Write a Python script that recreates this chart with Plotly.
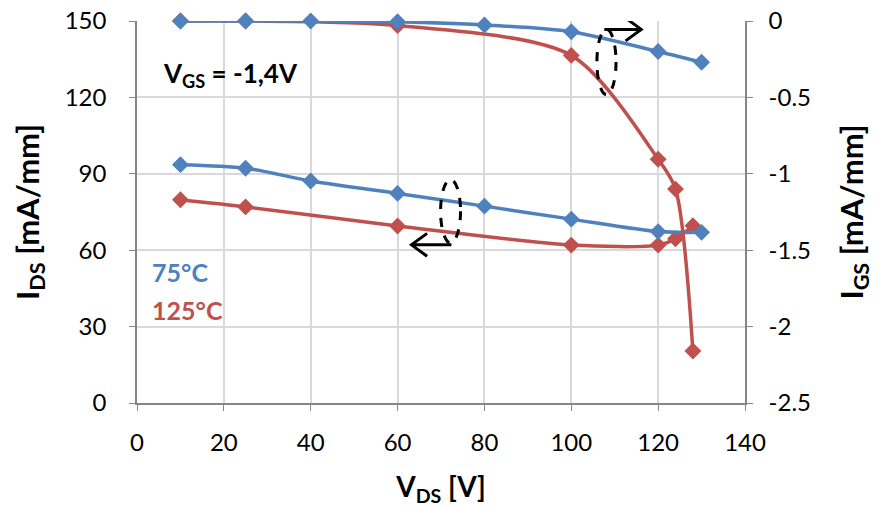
import plotly.graph_objects as go

# ---- data ----
vds_75 = [10, 25, 40, 60, 80, 100, 120, 130]
ids_75 = [93.6, 92.2, 87.2, 82.3, 77.3, 72.2, 67.3, 67.0]
igs_75 = [0.0, 0.0, 0.0, -0.005, -0.026, -0.07, -0.2, -0.27]

vds_125 = [10, 25, 60, 100, 120, 124, 128]
ids_125 = [79.8, 77.0, 69.5, 62.0, 62.0, 64.5, 69.6]
igs_125 = [0.0, 0.0, -0.03, -0.225, -0.905, -1.10, -2.16]

x_ticks = [0, 20, 40, 60, 80, 100, 120, 140]
left_ticks = [0, 30, 60, 90, 120, 150]
right_ticks = [-2.5, -2, -1.5, -1, -0.5, 0]
right_ticktext = ["-2.5", "-2", "-1.5", "-1", "-0.5", "0"]

BLUE = "#4F81BD"
RED = "#C0504D"
FONT = "Lato"

fig = go.Figure()

def add(x, y, color, axis):
    fig.add_trace(go.Scatter(
        x=x, y=y, mode="lines+markers", yaxis=axis,
        line=dict(color=color, width=3.5, shape="spline", smoothing=0.8),
        marker=dict(symbol="diamond", size=13, color=color),
        showlegend=False, cliponaxis=False))

add(vds_125, ids_125, RED, "y")
add(vds_75, ids_75, BLUE, "y")
add(vds_125, igs_125, RED, "y2")
add(vds_75, igs_75, BLUE, "y2")

axis_common = dict(showline=True, linecolor="#868686", linewidth=1.5,
                   ticks="outside", ticklen=6, tickcolor="#868686",
                   tickfont=dict(family=FONT, size=24, color="black"),
                   zeroline=False, automargin=False, ticklabeloverflow="allow")

# page body adds an 8px offset; figure sized so plot area lands where the reference has it
fig.update_layout(
    width=872, height=499,
    margin=dict(l=129, r=135, t=13, b=104),
    plot_bgcolor="white", paper_bgcolor="white",
    font=dict(family=FONT, color="black"),
    xaxis=dict(range=[0, 140], tickvals=x_ticks, showgrid=True,
               gridcolor="#D9D9D9", gridwidth=1.5, ticklabelstandoff=11,
               title=dict(text="<b>V<sub>DS</sub> [V]</b>", font=dict(size=28), standoff=27),
               **axis_common),
    yaxis=dict(range=[0, 150], tickvals=left_ticks, showgrid=True,
               gridcolor="#D9D9D9", gridwidth=1.5, ticklabelstandoff=18,
               title=dict(text="<b>I<sub>DS</sub> [mA/mm]</b>", font=dict(size=31), standoff=16),
               **axis_common),
    yaxis2=dict(range=[-2.5, 0], tickvals=right_ticks, ticktext=right_ticktext,
                overlaying="y", side="right", showgrid=False, ticklabelstandoff=11,
                title=dict(text="<b>I<sub>GS</sub> [mA/mm]</b>", font=dict(size=31), standoff=31),
                **axis_common),
)

fig.add_annotation(x=21.6, y=129, xref="x", yref="y", showarrow=False,
                   text="<b>V<sub>GS</sub> = -1,4V</b>", font=dict(size=26, color="black"))
fig.add_annotation(x=3.0, y=51.5, xref="x", yref="y", showarrow=False, xanchor="left",
                   text="<b>75°C</b>", font=dict(size=25, color=BLUE))
fig.add_annotation(x=3.0, y=36.5, xref="x", yref="y", showarrow=False, xanchor="left",
                   text="<b>125°C</b>", font=dict(size=25, color=RED))

dash = dict(color="black", width=3, dash="dash")
fig.add_shape(type="circle", xref="x", yref="y", x0=105.9, x1=110.3, y0=121.1, y1=146.7, line=dash)
fig.add_shape(type="circle", xref="x", yref="y", x0=69.9, x1=74.5, y0=62.9, y1=87.7, line=dash)

solid = dict(color="black", width=3)
# right-pointing arrow
fig.add_shape(type="path", xref="x", yref="y",
              path="M 107.6,146.7 L 116.1,146.7 M 112.5,151.2 L 116.1,146.7 L 112.5,142.2",
              line=solid)
# left-pointing arrow
fig.add_shape(type="path", xref="x", yref="y",
              path="M 72.4,62.1 L 63.2,62.1 M 66.8,66.6 L 63.2,62.1 L 66.8,57.6",
              line=solid)

fig.write_html("out.html")
